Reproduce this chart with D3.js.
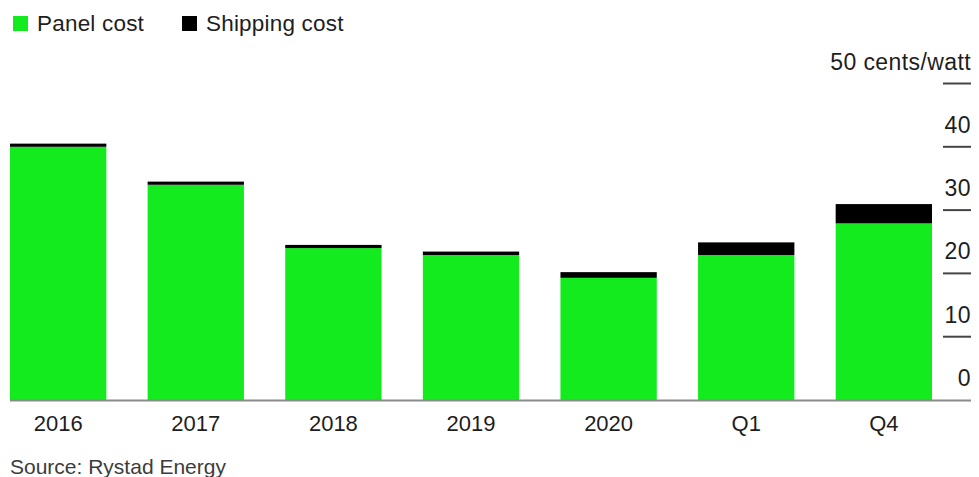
<!DOCTYPE html>
<html>
<head>
<meta charset="utf-8">
<script src="https://cdn.jsdelivr.net/npm/d3@7"></script>
<style>
    body { margin: 0; background: #fff; }
    svg text { font-family: 'Liberation Sans', Arial, sans-serif; fill: #1e1e1e; }
</style>
</head>
<body>
<svg id="chart" width="979" height="477"></svg>
<script>
// values, cents per watt
const categories = ['2016', '2017', '2018', '2019', '2020', 'Q1', 'Q4'];
const panelCost = [40.0, 34.0, 24.0, 22.9, 19.3, 22.9, 27.9];
const shippingCost = [0.5, 0.5, 0.5, 0.55, 0.9, 2.0, 3.05];
const yTicks = [0, 10, 20, 30, 40, 50];
const seriesNames = ['Panel cost', 'Shipping cost'];
const colors = ['#13eb1f', '#000000'];

const svg = d3.select('#chart');

const x = d3.scaleBand()
    .domain(categories)
    .range([10, 932])
    .paddingInner(0.3)
    .paddingOuter(0);

const y = d3.scaleLinear()
    .domain([0, 50])
    .range([400, 83.5]);

const rows = categories.map((c, i) => ({ cat: c, panel: panelCost[i], ship: shippingCost[i] }));
const stack = d3.stack().keys(['panel', 'ship']);
const layers = stack(rows);

svg.selectAll('.layer')
    .data(layers)
    .enter()
    .append('g')
    .attr('class', 'layer')
    .attr('fill', (d, i) => colors[i])
    .selectAll('rect')
    .data((d) => d)
    .enter()
    .append('rect')
    .attr('x', (d) => x(d.data.cat))
    .attr('width', x.bandwidth())
    .attr('y', (d) => y(d[1]))
    .attr('height', (d) => y(d[0]) - y(d[1]));

// baseline
svg.append('line')
    .attr('x1', 10)
    .attr('x2', 971)
    .attr('y1', y(0) + 0.5)
    .attr('y2', y(0) + 0.5)
    .style('stroke', '#8a8a8a')
    .style('stroke-width', 2);

// y axis on the right, label above each tick
const yAxis = svg.append('g');
yAxis.selectAll('.tick-line')
    .data(yTicks.filter((t) => t > 0))
    .enter()
    .append('line')
    .attr('x1', 943)
    .attr('x2', 971)
    .attr('y1', (d) => y(d))
    .attr('y2', (d) => y(d))
    .style('stroke', '#444')
    .style('stroke-width', 2);

yAxis.selectAll('.tick-label')
    .data(yTicks)
    .enter()
    .append('text')
    .attr('x', 971)
    .attr('y', (d) => y(d) - 14)
    .attr('text-anchor', 'end')
    .style('font-size', '23px')
    .style('letter-spacing', '0.4px')
    .text((d) => d === 50 ? '50 cents/watt' : d);

// category labels
svg.selectAll('.x-label')
    .data(categories)
    .enter()
    .append('text')
    .attr('x', (d) => x(d) + x.bandwidth() / 2)
    .attr('y', 431)
    .attr('text-anchor', 'middle')
    .style('font-size', '22px')
    .text((d) => d);

// legend
const legendX = [13, 182];
const legend = svg.selectAll('.legend')
    .data(seriesNames)
    .enter()
    .append('g')
    .attr('transform', (d, i) => 'translate(' + legendX[i] + ',16)');
legend.append('rect')
    .attr('width', 15)
    .attr('height', 15)
    .attr('fill', (d, i) => colors[i]);
legend.append('text')
    .attr('x', 24)
    .attr('y', 15)
    .style('font-size', '22.5px')
    .style('letter-spacing', '0.2px')
    .text((d) => d);

svg.append('text')
    .attr('x', 10)
    .attr('y', 474)
    .style('font-size', '21px')
    .style('fill', '#3c3c3c')
    .text('Source: Rystad Energy');
</script>
</body>
</html>
